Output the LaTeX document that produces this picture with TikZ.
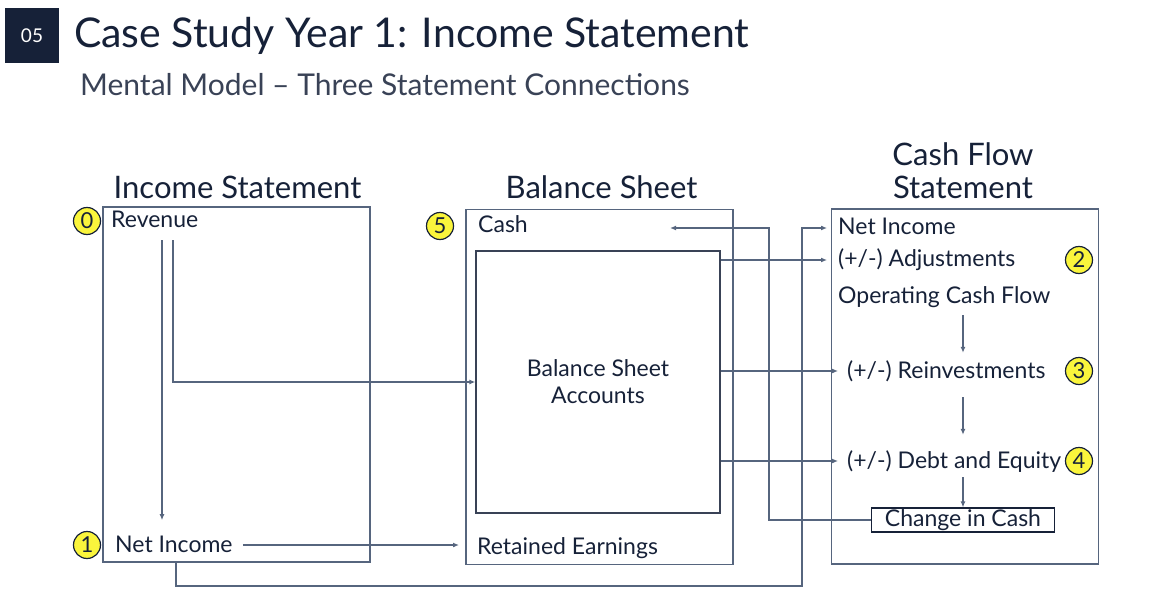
\documentclass[tikz,border=0pt]{standalone}
\usepackage{fontspec}
\setmainfont{Lato}
\usetikzlibrary{arrows.meta}
\definecolor{navyblue}{RGB}{22,33,56}
\definecolor{slateblue}{RGB}{86,101,126}
\definecolor{markyellow}{RGB}{250,245,60}

\begin{document}
\begin{tikzpicture}[x=1pt, y=-1pt,
    stmt/.style={draw=slateblue, line width=1.6pt, minimum width=267pt, minimum height=355pt},
    heading/.style={text=navyblue, font=\fontsize{31}{33}\selectfont, align=center},
    item/.style={anchor=west, inner sep=0pt, text height=16pt, text depth=2pt, text=navyblue, font=\fontsize{23}{27}\selectfont},
    badge/.style={circle, draw=navyblue, fill=markyellow, line width=1.2pt, minimum size=27pt, inner sep=0pt, text=navyblue, font=\fontsize{22}{22}\selectfont},
    conn/.style={draw=slateblue, line width=1.2pt, -{Latex[length=6pt,width=5pt]}}
]
\useasboundingbox (0,0) rectangle (1156,612);

% title
\node[fill=navyblue, minimum width=54pt, minimum height=55pt, text=white, font=\fontsize{19}{19}\selectfont] (num) at (32,36) {05};
\node[anchor=west, inner sep=0pt, text=navyblue, font=\fontsize{41}{41}\selectfont] (title) at (74,36) {Case Study Year 1: Income Statement};
\node[anchor=west, inner sep=0pt, text=navyblue!85, font=\fontsize{30}{30}\selectfont] (subtitle) at (80,85) {Mental Model -- Three Statement Connections};

% the three statements
\node[stmt] (isbox) at (236.5,384.5) {};
\node[stmt] (bsbox) at (599.5,387) {};
\node[stmt] (cfbox) at (965,386.5) {};
\node[heading] (ishead) at (237.5,187) {Income Statement};
\node[heading] (bshead) at (601.5,187) {Balance Sheet};
\node[heading] (cfhead) at (963,171) {Cash Flow\\Statement};

% income statement
\node[item] (rev) at (111,221) {Revenue};
\node[item] (isni) at (115,545) {Net Income};

% balance sheet
\node[item] (cash) at (478,226) {Cash};
\node[draw=navyblue!85, line width=1.4pt, minimum width=244pt, minimum height=262pt, align=center, text=navyblue, font=\fontsize{23}{27}\selectfont] (bsacc) at (598,382) {Balance Sheet\\Accounts};
\node[item] (re) at (477,547) {Retained Earnings};

% cash flow statement
\node[item] (cfni) at (838,228) {Net Income};
\node[item] (adj) at (838,260) {(+/-) Adjustments};
\node[item] (ocf) at (838,296) {Operating Cash Flow};
\node[item] (reinv) at (847,371) {(+/-) Reinvestments};
\node[item] (debt) at (847,461) {(+/-) Debt and Equity};
\node[draw=navyblue, line width=1.2pt, minimum width=183pt, minimum height=24pt, inner sep=0pt, text=navyblue, font=\fontsize{23}{24}\selectfont] (chg) at (963,520) {Change in Cash};

% step numbers
\node[badge] (b0) at (87,221) {0};
\node[badge] (b1) at (87,545) {1};
\node[badge] (b5) at (440,226) {5};
\node[badge] (b2) at (1079,260) {2};
\node[badge] (b3) at (1079,371) {3};
\node[badge] (b4) at (1079,461) {4};

\coordinate (loop) at (802,586);
\coordinate (cashtip) at (670,228);

% connections
\draw[conn, shorten <=10pt] ([xshift=51pt]rev.south west) -- ++(0,290);
\draw[conn, shorten <=10pt] ([xshift=62pt]rev.south west) |- (bsacc.west);
\draw[conn, shorten <=10pt, shorten >=18pt] (isni) -- (isni -| re.west);
\draw[conn] ([xshift=-60.5pt]isbox.south) |- (loop) |- ([xshift=-11pt]cfni.west);
\draw[conn] (chg.west) -| ([xshift=99pt]cashtip) -- (cashtip);
\draw[conn] (bsacc.east |- adj.west) -- ([xshift=-11pt]adj.west);
\draw[conn] (bsacc.east |- reinv.west) -- ([xshift=-9pt]reinv.west);
\draw[conn] (bsacc.east |- debt.west) -- ([xshift=-9pt]debt.west);
\draw[conn, shorten <=10pt, shorten >=9pt] (ocf.south -| chg.north) -- (reinv.north -| chg.north);
\draw[conn, shorten <=17pt, shorten >=17pt] (reinv.south -| chg.north) -- (debt.north -| chg.north);
\draw[conn, shorten <=7pt] (debt.south -| chg.north) -- (chg.north);

\end{tikzpicture}
\end{document}
